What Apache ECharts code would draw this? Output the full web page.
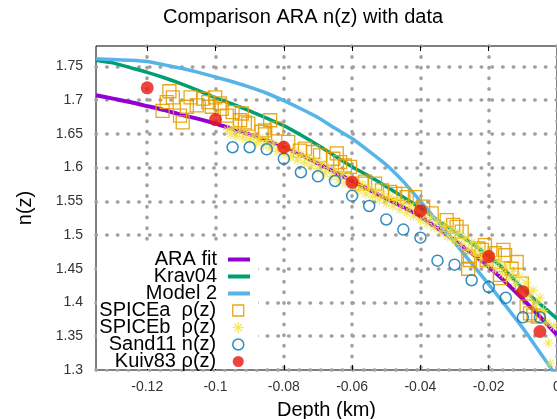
<!DOCTYPE html>
<html><head><meta charset="utf-8">
<script src="https://cdn.jsdelivr.net/npm/echarts@6/dist/echarts.min.js"></script>
<style>html,body{margin:0;padding:0;background:#fff}#c{width:557px;height:419px}</style>
</head><body><div id="c"></div>
<script>
const xTicks = [-0.12, -0.1, -0.08, -0.06, -0.04, -0.02, 0];
const yTicks = [1.3, 1.35, 1.4, 1.45, 1.5, 1.55, 1.6, 1.65, 1.7, 1.75];

const lineDepth = [-0.135,-0.13,-0.125,-0.12,-0.115,-0.11,-0.105,-0.1,-0.095,-0.09,-0.085,-0.08,-0.075,-0.07,-0.065,-0.06,-0.055,-0.05,-0.045,-0.04,-0.035,-0.03,-0.025,-0.02,-0.015,-0.01,-0.005,0];
const araFit = [1.707,1.702,1.697,1.691,1.685,1.678,1.672,1.665,1.657,1.649,1.640,1.630,1.619,1.606,1.593,1.580,1.567,1.554,1.541,1.527,1.510,1.492,1.473,1.453,1.430,1.405,1.379,1.352];
const krav04 = [1.759,1.755,1.748,1.741,1.733,1.724,1.714,1.703,1.694,1.684,1.673,1.662,1.648,1.633,1.617,1.601,1.587,1.572,1.556,1.540,1.522,1.505,1.488,1.469,1.447,1.420,1.398,1.376];
const model2 = [1.761,1.760,1.759,1.757,1.752,1.747,1.741,1.734,1.727,1.719,1.710,1.699,1.687,1.674,1.658,1.643,1.624,1.604,1.579,1.550,1.520,1.489,1.458,1.427,1.395,1.362,1.326,1.290];

const spiceaDepth = [-0.1155,-0.1143,-0.1135,-0.1125,-0.1104,-0.1096,-0.1084,-0.1073,-0.1055,-0.1036,-0.1021,-0.1011,-0.1001,-0.0987,-0.0982,-0.0967,-0.0950,-0.0928,-0.0923,-0.0914,-0.0904,-0.0865,-0.0855,-0.0855,-0.0840,-0.0821,-0.0787,-0.0753,-0.0738,-0.0714,-0.0694,-0.0655,-0.0645,-0.0635,-0.0621,-0.0606,-0.0572,-0.0562,-0.0533,-0.0513,-0.0489,-0.0474,-0.0450,-0.0440,-0.0416,-0.0392,-0.0367,-0.0323,-0.0304,-0.0294,-0.0279,-0.0260,-0.0260,-0.0255,-0.0230,-0.0220,-0.0211,-0.0206,-0.0182,-0.0167,-0.0167,-0.0157,-0.0152,-0.0133,-0.0118,-0.0103,-0.0089,-0.0079,-0.0069,-0.0055];
const spiceaN = [1.684,1.697,1.713,1.704,1.677,1.667,1.690,1.704,1.692,1.702,1.697,1.690,1.704,1.695,1.687,1.677,1.682,1.670,1.680,1.667,1.665,1.653,1.655,1.649,1.670,1.658,1.638,1.625,1.628,1.623,1.618,1.613,1.621,1.608,1.603,1.601,1.576,1.579,1.576,1.566,1.564,1.561,1.561,1.556,1.556,1.542,1.532,1.522,1.515,1.512,1.505,1.450,1.468,1.463,1.480,1.478,1.485,1.463,1.473,1.441,1.436,1.478,1.470,1.450,1.460,1.428,1.394,1.384,1.381,1.379];

const spicebDepth = [-0.0965,-0.0955,-0.095,-0.094,-0.093,-0.092,-0.091,-0.09,-0.089,-0.088,-0.087,-0.086,-0.085,-0.084,-0.083,-0.082,-0.081,-0.08,-0.079,-0.078,-0.077,-0.076,-0.075,-0.074,-0.073,-0.072,-0.071,-0.07,-0.069,-0.068,-0.067,-0.066,-0.065,-0.064,-0.063,-0.062,-0.061,-0.06,-0.059,-0.058,-0.057,-0.056,-0.055,-0.054,-0.053,-0.052,-0.051,-0.05,-0.049,-0.048,-0.047,-0.046,-0.045,-0.044,-0.043,-0.042,-0.041,-0.04,-0.039,-0.038,-0.037,-0.036,-0.035,-0.034,-0.033,-0.032,-0.031,-0.03,-0.029,-0.028,-0.027,-0.026,-0.025,-0.024,-0.023,-0.022,-0.021,-0.02,-0.019,-0.018,-0.017,-0.016,-0.015,-0.014,-0.013,-0.012,-0.011,-0.01,-0.009,-0.008,-0.007,-0.006,-0.005,-0.004,-0.003,-0.0025,-0.002,-0.001];
const spicebN = [1.656,1.650,1.658,1.646,1.653,1.644,1.650,1.641,1.647,1.637,1.644,1.633,1.640,1.629,1.636,1.624,1.632,1.620,1.628,1.616,1.624,1.611,1.619,1.607,1.615,1.602,1.610,1.598,1.606,1.592,1.600,1.587,1.595,1.582,1.590,1.577,1.585,1.570,1.580,1.566,1.575,1.561,1.570,1.557,1.565,1.552,1.561,1.547,1.556,1.543,1.552,1.538,1.547,1.533,1.542,1.528,1.537,1.522,1.531,1.517,1.526,1.511,1.520,1.505,1.514,1.498,1.508,1.492,1.502,1.486,1.495,1.479,1.489,1.472,1.482,1.465,1.475,1.457,1.468,1.450,1.461,1.443,1.453,1.436,1.446,1.428,1.438,1.419,1.429,1.410,1.418,1.399,1.407,1.388,1.370,1.340,1.310,1.365];

const sandDepth = [-0.095,-0.09,-0.085,-0.08,-0.075,-0.07,-0.065,-0.06,-0.055,-0.05,-0.045,-0.04,-0.035,-0.03,-0.025,-0.02,-0.015,-0.01,-0.005];
const sandN = [1.630,1.630,1.627,1.613,1.593,1.587,1.580,1.558,1.543,1.523,1.508,1.496,1.462,1.456,1.433,1.423,1.407,1.378,1.378];

const kuivDepth = [-0.12,-0.1,-0.08,-0.06,-0.04,-0.02,-0.01,-0.005];
const kuivN = [1.718,1.671,1.630,1.578,1.536,1.468,1.416,1.357];

const names = ['ARA fit','Krav04','Model 2','SPICEa  \u03c1(z)','SPICEb  \u03c1(z)','Sand11 n(z)','Kuiv83 \u03c1(z)'];
const FONT = 'Liberation Sans, Arial, sans-serif';
const zip = (a, b) => a.map((v, i) => [v, b[i]]);
const asterisk = 'path://M5,0V10M0,5H10M1.6,1.6L8.4,8.4M1.6,8.4L8.4,1.6';
const gridDots = {color: '#a0a0a0', width: 3.5, type: [0.5, 10.2], cap: 'round'};

const chart = echarts.init(document.getElementById('c'), null, {renderer: 'canvas'});
chart.setOption({
  animation: false,
  backgroundColor: '#fff',
  title: {
    text: 'Comparison ARA n(z) with data', left: 163, top: 7, padding: 0,
    textStyle: {fontFamily: FONT, fontSize: 20, fontWeight: 'normal', color: '#000'}
  },
  grid: {left: 96, right: 0, top: 46, bottom: 49, show: true, borderColor: '#000', borderWidth: 1, backgroundColor: 'transparent', outerBoundsMode: 'none', containLabel: false},
  graphic: [{type: 'rect', z: 3, shape: {x: 97, y: 245, width: 161, height: 124}, style: {fill: '#fff'}}],
  legend: [
    {
      orient: 'vertical', align: 'right', right: 307, top: 249.5, padding: 0, itemGap: -3,
      itemWidth: 22, itemHeight: 4, selectedMode: false,
      textStyle: {fontFamily: FONT, fontSize: 20, lineHeight: 17, color: '#000', padding: [0, 6, 0, 0]},
      data: [{name: names[0], icon: 'rect'}, {name: names[1], icon: 'rect'}, {name: names[2], icon: 'rect'}]
    },
    {
      orient: 'vertical', align: 'right', right: 312.5, top: 300.5, padding: 0, itemGap: -3,
      itemWidth: 11, itemHeight: 11, selectedMode: false,
      textStyle: {fontFamily: FONT, fontSize: 20, lineHeight: 17, color: '#000', padding: [0, 11.5, 0, 0]},
      data: [
        {name: names[3], icon: 'rect', itemStyle: {color: 'rgba(0,0,0,0)', borderColor: '#e69f00', borderWidth: 1.3}},
        {name: names[4], icon: asterisk, itemStyle: {color: 'rgba(0,0,0,0)', borderColor: '#f0e442', borderWidth: 1.3}},
        {name: names[5], icon: 'circle', itemStyle: {color: 'rgba(0,0,0,0)', borderColor: '#0072b2', borderWidth: 1.5}},
        {name: names[6], icon: 'circle', itemStyle: {color: '#e8170c', borderWidth: 0}}
      ]
    }
  ],
  xAxis: [
    {
      type: 'value', min: -0.135, max: 0, position: 'bottom',
      name: 'Depth (km)', nameLocation: 'middle', nameGap: 30,
      nameTextStyle: {fontFamily: FONT, fontSize: 20, color: '#000'},
      axisLine: {show: false},
      axisTick: {show: true, inside: true, length: 5, lineStyle: {color: '#000'}, customValues: xTicks},
      axisLabel: {fontFamily: FONT, fontSize: 14, color: '#333', margin: 10, customValues: xTicks},
      splitLine: {show: true, lineStyle: gridDots, customValues: xTicks}
    },
    {
      type: 'value', min: -0.135, max: 0, position: 'top',
      axisLine: {show: false},
      axisTick: {show: true, inside: true, length: 5, lineStyle: {color: '#000'}, customValues: xTicks},
      axisLabel: {show: false},
      splitLine: {show: false}
    }
  ],
  yAxis: [{
    type: 'value', min: 1.3, max: 1.78, interval: 0.05,
    name: 'n(z)', nameLocation: 'middle', nameGap: 61, nameRotate: 90,
    nameTextStyle: {fontFamily: FONT, fontSize: 20, color: '#000'},
    axisLine: {show: false},
    axisTick: {show: true, inside: true, length: 5, lineStyle: {color: '#000'}, customValues: yTicks},
    axisLabel: {fontFamily: FONT, fontSize: 14, color: '#333', margin: 13, customValues: yTicks},
    splitLine: {show: true, lineStyle: gridDots, customValues: yTicks}
  }],
  series: [
    {name: names[0], type: 'line', color: '#9400d3', symbol: 'none', smooth: 0.2, data: zip(lineDepth, araFit), lineStyle: {width: 4, color: '#9400d3'}, z: 2},
    {name: names[1], type: 'line', color: '#009e73', symbol: 'none', smooth: 0.2, data: zip(lineDepth, krav04), lineStyle: {width: 3.5, color: '#009e73'}, z: 2},
    {name: names[2], type: 'line', color: '#56b4e9', symbol: 'none', smooth: 0.2, data: zip(lineDepth, model2), lineStyle: {width: 3.5, color: '#56b4e9'}, z: 2},
    {name: names[3], type: 'scatter', symbol: 'rect', symbolSize: 13, data: zip(spiceaDepth, spiceaN), itemStyle: {color: 'rgba(0,0,0,0)', borderColor: '#e69f00', borderWidth: 1.3, opacity: 0.9}, z: 3},
    {name: names[4], type: 'scatter', symbol: asterisk, symbolSize: 10, data: zip(spicebDepth, spicebN), itemStyle: {color: 'rgba(0,0,0,0)', borderColor: '#f0e442', borderWidth: 1.2}, z: 3},
    {name: names[5], type: 'scatter', symbol: 'circle', symbolSize: 11, data: zip(sandDepth, sandN), itemStyle: {color: 'rgba(0,0,0,0)', borderColor: '#0072b2', borderWidth: 1.5}, z: 3},
    {name: names[6], type: 'scatter', symbol: 'circle', symbolSize: 13, data: zip(kuivDepth, kuivN), itemStyle: {color: '#e8170c'}, z: 3}
  ]
});
</script>
</body></html>
